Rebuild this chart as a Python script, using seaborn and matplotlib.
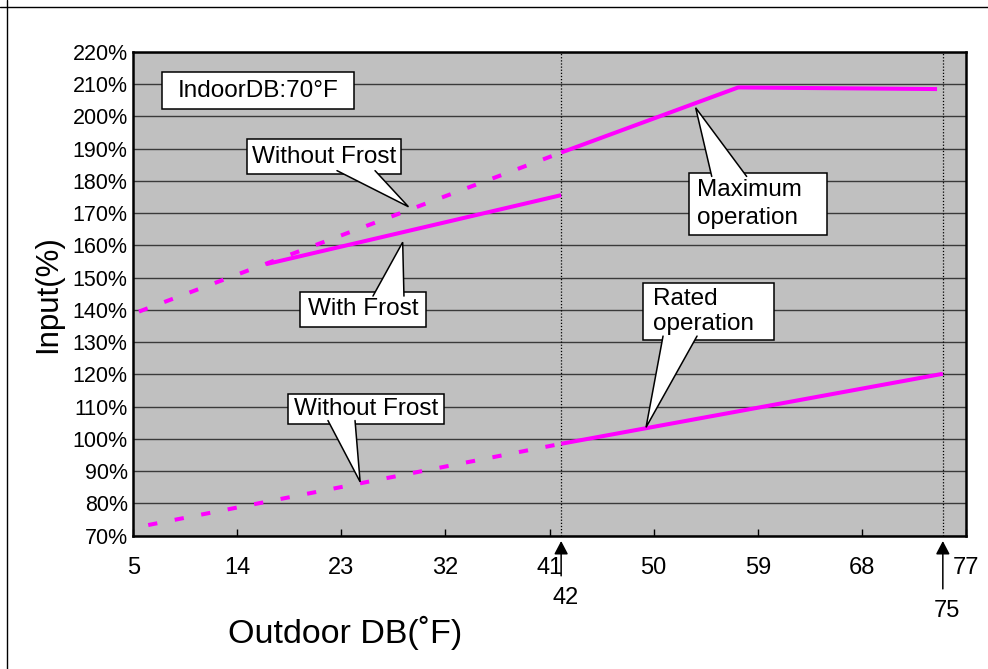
import matplotlib
matplotlib.use("Agg")
import matplotlib.pyplot as plt
import matplotlib.transforms as mtransforms
from matplotlib.lines import Line2D
from matplotlib.patches import Polygon, Rectangle
import seaborn as sns

# ---------------------------
# Data (outdoor DB in degF, input in %)
# ---------------------------
max_x = [42, 57.3, 74.5]
max_y = [188.8, 209.0, 208.5]

nofrost_hi_x = [5.5, 42]
nofrost_hi_y = [139.5, 188.8]

frost_x = [16.5, 42]
frost_y = [154.2, 175.6]

rated_x = [42, 75]
rated_y = [98.5, 120.2]

nofrost_lo_x = [6.3, 42]
nofrost_lo_y = [73.3, 98.5]

x_ticks = [5, 14, 23, 32, 41, 50, 59, 68, 77]
y_ticks = [70, 80, 90, 100, 110, 120, 130, 140, 150, 160, 170, 180, 190, 200, 210, 220]
y_tick_labels = [f"{v}%" for v in y_ticks]
marker_x = [42, 75]

# ---------------------------
# Style
# ---------------------------
sns.set_theme(style="ticks", rc={
    "text.color": "black",
    "axes.labelcolor": "black",
    "xtick.color": "black",
    "ytick.color": "black",
})
plt.rcParams['font.family'] = ['Liberation Sans', 'DejaVu Sans']

MAGENTA = "#FF00FF"
DASHED = (0, (2.3, 4.4))

fig = plt.figure(figsize=(9.88, 6.69), dpi=100)
ax = fig.add_axes([0.1348, 0.1993, 0.8429, 0.7230])
ax.set_facecolor("#C0C0C0")

# ---------------------------
# Curves
# ---------------------------
series = [
    (nofrost_hi_x, nofrost_hi_y, DASHED),
    (frost_x, frost_y, "-"),
    (max_x, max_y, "-"),
    (nofrost_lo_x, nofrost_lo_y, DASHED),
    (rated_x, rated_y, "-"),
]
for xs, ys, ls in series:
    sns.lineplot(x=xs, y=ys, ax=ax, color=MAGENTA, linewidth=2.9,
                 linestyle=ls, solid_capstyle="butt", zorder=3)

for m in marker_x:
    ax.axvline(m, color="black", lw=0.9, linestyle=(0, (1, 1.5)), zorder=2)

# ---------------------------
# Axes
# ---------------------------
ax.set_xlim(5, 77)
ax.set_ylim(70, 220)
ax.set_xticks(x_ticks)
ax.set_yticks(y_ticks)
ax.set_yticklabels(y_tick_labels)
ax.yaxis.grid(True, color="#3a3a3a", lw=1.0)
ax.xaxis.grid(False)
ax.set_axisbelow(True)
ax.tick_params(axis="x", direction="in", length=5, width=1, pad=15, labelsize=17)
ax.tick_params(axis="y", direction="in", length=0, pad=4, labelsize=15.5)
for s in ax.spines.values():
    s.set_linewidth(1.8)
    s.set_color("black")

ax.set_xlabel("Outdoor DB(˚F)", fontsize=24.5)
ax.xaxis.set_label_coords(0.2545, -0.166)
ax.set_ylabel("Input(%)", fontsize=22.5)
ax.yaxis.set_label_coords(-0.084, 0.5)

# arrows under the axis at 42 and 75
trans = mtransforms.blended_transform_factory(ax.transData, ax.transAxes)
tails = [-0.083, -0.110]
label_y = [-0.128, -0.156]
for m, ty, ly in zip(marker_x, tails, label_y):
    ax.annotate("", xy=(m, -0.011), xycoords=trans, xytext=(m, ty), textcoords=trans,
                arrowprops=dict(arrowstyle="-|>,head_length=0.8,head_width=0.42",
                                mutation_scale=10, color="black", lw=1.1,
                                shrinkA=0, shrinkB=0),
                annotation_clip=False)
    ax.text(m, ly, str(m), transform=mtransforms.offset_copy(trans, fig=fig, x=4, units="dots"),
            ha="center", va="center", fontsize=17)

# ---------------------------
# Callouts
# ---------------------------
callouts = [
    # text, box (x0, x1, y0, y1), text x and alignment, wedge base (x0, x1, y), pointer tip, line spacing
    ("IndoorDB:70°F", (7.46, 24.09, 202.4, 213.7), (15.78, "center"), None, None, 1.2),
    ("Without Frost", (14.81, 28.15, 182.06, 193.0), (21.48, "center"), (22.62, 25.91, 183.2), (28.8, 172.0), 1.2),
    ("With Frost", (19.42, 30.29, 134.81, 145.47), (24.86, "center"), (25.73, 28.41, 144.3), (28.30, 161.0), 1.2),
    ("Maximum\noperation", (53.06, 65.01, 163.24, 182.56), (53.72, "left"), (55.02, 58.04, 181.4), (53.63, 202.7), 1.35),
    ("Rated\noperation", (49.05, 60.40, 130.68, 148.45), (49.92, "left"), (50.81, 53.75, 131.9), (49.34, 103.6), 1.15),
    ("Without Frost", (18.41, 31.87, 104.54, 113.84), (25.14, "center"), (21.84, 24.18, 105.7), (24.62, 86.7), 1.2),
]
for txt, box, tpos, base, tip, lsp in callouts:
    bx0, bx1, by0, by1 = box
    ax.add_patch(Rectangle((bx0, by0), bx1 - bx0, by1 - by0, fc="white", ec="black", lw=1.1, zorder=5))
    ax.text(tpos[0], (by0 + by1) / 2, txt, ha=tpos[1], va="center", multialignment="left",
            fontsize=17.5, linespacing=lsp, zorder=5.5)
    if base is None:
        continue
    x0, x1, yb = base
    ax.add_patch(Polygon([(x0, yb), tip, (x1, yb)], closed=True, fc="white", ec="none", zorder=6))
    ax.plot([x0, tip[0], x1], [yb, tip[1], yb], color="black", lw=1.1, zorder=6.5,
            solid_joinstyle="miter")

# outer frame (top and left edges only)
fig.add_artist(Line2D([0, 1], [1 - 7.3 / 669] * 2, transform=fig.transFigure, color="black", lw=1.0))
fig.add_artist(Line2D([7.3 / 988] * 2, [0, 1], transform=fig.transFigure, color="black", lw=1.0))

fig.savefig("out.png", dpi=100)
